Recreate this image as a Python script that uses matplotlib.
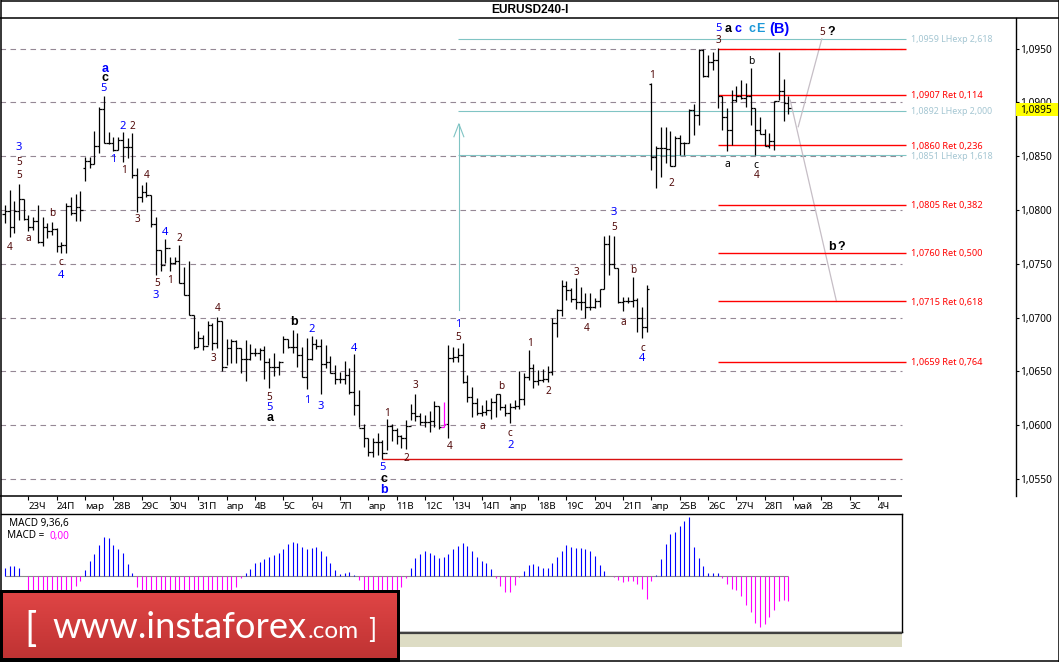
# plot.py
# EURUSD H4 bar chart with wave counts, Fibonacci levels and a MACD pane.

import numpy as np
import matplotlib
matplotlib.use("Agg")
import matplotlib.pyplot as plt
from matplotlib.lines import Line2D
from matplotlib.patches import Rectangle


# =========================
# Data (prices in pips above 1.0000)
# =========================

HIGHS = [
    804.6, 818.6, 808.3, 824.1, 810.2, 795.3, 793.8, 804.6, 793.8, 787.6,
    788.5, 782.9, 770.5, 806.2, 812.4, 814.8, 817.6, 849.5, 848.9, 873.4,
    896.0, 905.9, 872.1, 868.1, 868.1, 872.1, 866.5, 871.2, 838.7, 823.2,
    826.0, 813.9, 793.1, 762.8, 773.0, 756.6, 756.0, 767.4, 747.3, 752.6,
    702.4, 687.5, 683.8, 696.5, 694.7, 700.9, 696.8, 679.8, 679.8, 679.2,
    671.4, 679.2, 675.2, 671.4, 671.4, 673.6, 662.1, 667.4, 659.7, 682.9,
    679.8, 688.5, 685.4, 672.4, 681.3, 682.9, 679.8, 679.8, 674.5, 664.3,
    656.0, 649.8, 659.7, 653.5, 666.2, 632.7, 601.1, 587.8, 587.8, 593.1,
    586.3, 605.8, 601.1, 597.1, 590.9, 604.9, 619.7, 629.0, 611.0, 609.5,
    613.5, 622.8, 618.0, 621.9, 674.5, 673.0, 671.4, 676.1, 646.7, 635.2,
    625.0, 618.8, 623.4, 625.0, 628.7, 628.7, 619.7, 620.3, 623.4, 650.4,
    648.2, 669.9, 656.6, 651.3, 651.9, 655.0, 699.3, 707.7, 734.9, 734.3,
    727.2, 736.5, 728.7, 722.5, 722.5, 717.9, 726.3, 775.8, 776.7, 775.8,
    746.3, 719.4, 719.4, 738.0, 718.5, 710.2, 730.3, 918.3, 859.4, 877.4,
    877.4, 873.4, 868.7, 869.6, 863.4, 893.5, 898.4, 949.6, 949.2, 944.0,
    947.0, 950.2, 906.2, 894.4, 911.4, 915.2, 920.8, 917.6, 931.6, 895.0,
    886.7, 874.9, 871.2, 901.5, 946.4, 921.4, 905.9,
]

LOWS = [
    788.2, 775.2, 778.3, 790.7, 790.7, 780.8, 781.4, 769.6, 766.5, 773.6,
    776.7, 760.6, 759.7, 760.3, 795.3, 790.1, 790.1, 827.2, 839.3, 842.7,
    853.2, 861.9, 861.3, 855.1, 855.7, 844.9, 848.6, 829.4, 798.4, 807.7,
    811.7, 783.8, 739.6, 743.6, 750.4, 743.3, 750.0, 731.8, 721.0, 702.4,
    670.8, 672.4, 669.9, 674.5, 669.9, 671.4, 650.7, 656.0, 658.1, 657.5,
    648.8, 641.4, 660.6, 664.3, 660.6, 642.6, 634.9, 645.7, 646.7, 667.4,
    671.4, 667.4, 653.8, 645.1, 633.6, 660.6, 670.5, 628.7, 652.8, 648.8,
    638.0, 639.5, 638.0, 628.7, 609.5, 598.0, 580.0, 571.7, 570.2, 572.3,
    568.3, 577.0, 585.7, 582.6, 578.5, 577.9, 604.9, 604.2, 600.2, 598.6,
    594.0, 598.6, 596.2, 598.6, 588.4, 659.0, 659.0, 638.9, 621.9, 608.0,
    609.5, 608.9, 609.5, 605.5, 608.0, 614.1, 608.6, 602.4, 614.8, 614.8,
    618.8, 642.0, 634.3, 637.4, 640.5, 640.5, 646.7, 682.3, 701.8, 716.0,
    714.8, 707.7, 707.0, 699.3, 707.0, 708.6, 709.5, 726.3, 739.6, 745.8,
    713.9, 706.4, 713.9, 709.5, 686.9, 681.3, 686.9, 837.1, 820.7, 830.9,
    843.3, 840.8, 840.8, 851.0, 851.0, 861.9, 869.6, 878.9, 923.8, 923.2,
    930.0, 895.0, 874.3, 855.1, 860.4, 900.6, 902.8, 896.0, 878.9, 851.0,
    870.6, 859.7, 857.2, 855.7, 902.2, 882.6, 889.1,
]

CLOSES = [
    799.3, 784.5, 799.0, 810.2, 791.6, 783.9, 789.7, 769.9, 784.5, 780.4,
    782.0, 766.5, 767.4, 803.7, 797.5, 802.4, 800.0, 845.5, 842.4, 859.4,
    893.5, 862.5, 862.5, 855.7, 865.0, 858.2, 858.2, 832.2, 811.7, 817.0,
    813.9, 786.6, 762.8, 748.9, 764.3, 750.4, 752.6, 731.8, 721.0, 702.4,
    672.4, 680.7, 673.9, 693.1, 676.1, 696.8, 653.8, 671.4, 678.6, 671.4,
    661.2, 661.2, 667.4, 667.4, 669.9, 659.0, 654.4, 654.4, 659.0, 679.8,
    672.4, 672.4, 665.2, 645.1, 661.2, 675.2, 673.6, 656.6, 659.0, 648.8,
    642.6, 642.6, 646.7, 630.6, 618.8, 597.7, 588.4, 575.4, 584.7, 584.7,
    573.9, 599.6, 595.6, 590.0, 587.8, 599.3, 611.0, 608.9, 602.7, 602.7,
    604.2, 618.2, 598.6, 600.8, 662.1, 663.7, 665.2, 640.5, 626.5, 620.3,
    611.0, 612.0, 614.1, 621.3, 628.7, 617.2, 611.0, 617.2, 617.9, 624.0,
    645.0, 652.9, 641.0, 642.0, 642.6, 649.1, 695.0, 707.0, 729.4, 725.6,
    717.0, 714.8, 714.8, 709.5, 709.5, 715.7, 726.3, 768.0, 749.5, 745.8,
    714.8, 715.7, 715.4, 716.3, 699.3, 691.0, 726.3, 849.5, 857.9, 857.9,
    856.6, 840.8, 866.5, 861.9, 861.9, 892.9, 888.2, 948.6, 924.5, 937.0,
    939.3, 905.9, 886.1, 874.3, 902.2, 905.9, 904.3, 906.2, 895.0, 874.3,
    870.6, 859.7, 864.0, 901.2, 910.8, 899.1, 894.4,
]

# Bars whose open differs from the previous close (first bar and the gaps)
OPEN_GAPS = {0: 796.0, 17: 838.7, 137: 916.7}

# Bar drawn in magenta on the original chart
MARKED_BARS = [93]

MACD_HIST = [
    23, 29, 29, 23, 0, -55, -65, -72, -78, -82,
    -84, -80, -70, -60, -45, -31, -15, 17, 44, 65,
    92, 116, 113, 93, 80, 68, 35, 8, -33, -50,
    -60, -68, -75, -80, -85, -88, -90, -90, -88, -85,
    -80, -76, -72, -68, -62, -55, -50, -45, -42, -34,
    -7, 10, 22, 38, 41, 50, 56, 62, 68, 82,
    95, 101, 98, 88, 80, 85, 88, 76, 60, 38,
    17, 7, 10, 13, 3, -13, -48, -62, -70, -74,
    -72, -66, -56, -44, -34, -7, 23, 53, 65, 74,
    68, 62, 53, 56, 65, 80, 89, 98, 89, 74,
    56, 44, 38, 20, -6, -31, -49, -47, -28, -4,
    14, 32, 35, 29, 23, 23, 38, 56, 74, 92,
    86, 83, 83, 80, 74, 59, 32, 14, 0, -4,
    -13, -19, -16, -16, -25, -40, -67, -16, 4, 50,
    95, 125, 131, 149, 164, 176, 86, 53, 29, 8,
    8, 8, -6, -25, -40, -43, -61, -85, -106, -139,
    -151, -142, -121, -100, -73, -70, -73,
]

TIME_TICKS = [5 + 6 * k for k in range(31)]
TIME_LABELS = [
    "23Ч", "24П", "мар", "28В", "29С", "30Ч", "31П", "апр", "4В", "5С", "6Ч",
    "7П", "апр", "11В", "12С", "13Ч", "14П", "апр", "18В", "19С", "20Ч", "21П",
    "апр", "25В", "26С", "27Ч", "28П", "май", "2В", "3С", "4Ч",
]

PRICE_TICKS = [550, 600, 650, 700, 750, 800, 850, 900, 950]
LAST_PRICE = 895

# Retracement levels: price, label (first level has no label on the chart)
RET_LEVELS = [950, 907, 860, 805, 760, 715, 659]
RET_LABELS = [
    "", "1,0907 Ret 0,114", "1,0860 Ret 0,236", "1,0805 Ret 0,382",
    "1,0760 Ret 0,500", "1,0715 Ret 0,618", "1,0659 Ret 0,764",
]
RET_START_BAR = 151

EXP_LEVELS = [959, 892, 851]
EXP_LABELS = ["1,0959 LHexp 2,618", "1,0892 LHexp 2,000", "1,0851 LHexp 1,618"]
EXP_START_BAR = 96

LEVEL_END_BAR = 190.9
GRID_END_BAR = 190.0

BASE_LEVEL = 568.3
BASE_START_BAR = 80

ARROW_BAR = 96.2
ARROW_FROM = 707
ARROW_TO = 880

# Forecast paths: bar, price
PATH_UP = ([168.1, 173.1], [877.3, 959.0])
PATH_DOWN = ([166.4, 176.2], [902.0, 715.0])

# Wave labels: text, bar, price
WAVES_BLUE = [
    ("3", 3.0, 859.4), ("4", 11.9, 740.5), ("5", 21.0, 913.9), ("1", 23.0, 848.0),
    ("2", 25.0, 878.9), ("4", 33.9, 780.7), ("3", 32.0, 721.9), ("2", 65.1, 690.3),
    ("5", 56.0, 617.8), ("1", 64.1, 624.0), ("3", 67.0, 618.7), ("4", 73.9, 672.6),
    ("5", 80.1, 562.1), ("1", 96.0, 695.2), ("2", 107.1, 582.5), ("4", 135.0, 663.6),
    ("3", 129.1, 799.0), ("5", 151.1, 970.0),
]
WAVES_DARK = [
    ("5", 3.0, 845.5), ("5", 3.1, 833.1), ("4", 0.95, 766.8), ("a", 5.06, 775.1),
    ("b", 10.06, 798.1), ("c", 11.9, 752.8), ("2", 27.0, 878.6), ("1", 25.2, 837.8),
    ("4", 30.0, 833.1), ("3", 28.1, 792.2), ("2", 37.0, 774.6), ("5", 32.2, 732.8),
    ("1", 35.1, 735.5), ("4", 45.0, 709.5), ("3", 44.2, 663.1), ("5", 56.0, 627.4),
    ("1", 81.0, 612.5), ("3", 87.1, 638.0), ("2", 85.1, 570.2), ("4", 94.2, 581.3),
    ("5", 96.1, 682.6), ("a", 101.2, 600.4), ("b", 105.2, 637.3), ("c", 107.1, 594.0),
    ("1", 111.2, 677.6), ("2", 115.1, 633.0), ("3", 121.1, 743.5), ("4", 123.2, 691.5),
    ("a", 131.1, 697.1), ("b", 133.2, 744.8), ("c", 135.1, 672.9), ("5", 129.1, 785.3),
    ("1", 137.2, 926.6), ("2", 141.2, 826.2), ("3", 151.1, 958.6), ("4", 159.2, 833.7),
    ("5", 173.2, 966.6),
]
WAVES_BLACK = [("b", 158.2, 939.0), ("a", 153.2, 843.9), ("c", 159.2, 843.0)]
WAVES_BOLD_BLACK = [
    ("c", 21.2, 923.8), ("b", 61.2, 696.8), ("a", 56.2, 607.9), ("c", 80.3, 551.2),
    ("a", 153.2, 969.7), ("?", 175.2, 966.6), ("b", 175.2, 767.4), ("?", 177.3, 767.4),
]
WAVES_BOLD_BLUE = [("a", 21.2, 932.2), ("b", 80.3, 540.7), ("c", 155.3, 969.7)]
WAVES_BOLD_CYAN = [("c", 158.3, 969.7), ("E", 160.1, 969.7)]
WAVES_BIG_BLUE = [("(B)", 164.1, 969.7)]


# =========================
# Layout helpers
# =========================

W, H = 1059, 662
FONT = "Noto Sans"
BOLD_FONT = "Liberation Sans"

BAR_COLOR = "black"
GRID_COLOR = "#958895"
RED = "#ff0000"
TEAL = "#80c4c4"
EXP_TEXT = "#a4c6d2"
DARK_RED = "#500808"
BLUE = "#0000ff"
CYAN = "#1c98d8"
MAGENTA = "#ff00ff"
PATH_COLOR = "#c6bec6"

THIN = 0.8


def px_axes(fig, left, top, right, bottom):
    """Create axes from pixel edges measured from the top left corner."""
    return fig.add_axes([left / W, 1 - bottom / H, (right - left) / W, (bottom - top) / H])


def fig_line(fig, x0, y0, x1, y1, lw=1.1, color="black", zorder=20):
    fig.add_artist(Line2D([x0 / W, x1 / W], [1 - y0 / H, 1 - y1 / H], color=color,
                          lw=lw, zorder=zorder, solid_capstyle="butt"))


def fig_text(fig, x, y, s, **kw):
    kw.setdefault("family", FONT)
    return fig.text(x / W, 1 - y / H, s, **kw)


# =========================
# Price pane
# =========================

def draw_price_pane(ax):
    idx = np.arange(len(CLOSES))
    highs = np.array(HIGHS)
    lows = np.array(LOWS)
    closes = np.array(CLOSES)
    opens = np.concatenate(([closes[0]], closes[:-1]))
    for bar, value in OPEN_GAPS.items():
        opens[bar] = value

    colors = [MAGENTA if i in MARKED_BARS else BAR_COLOR for i in idx]
    ax.vlines(idx, lows, highs, colors=colors, lw=0.9, zorder=4)
    ax.hlines(opens, idx - 0.5, idx, colors=colors, lw=0.9, zorder=4)
    ax.hlines(closes, idx, idx + 0.5, colors=colors, lw=0.9, zorder=4)

    ax.hlines(PRICE_TICKS, -1, GRID_END_BAR, colors=GRID_COLOR, lw=0.8,
              linestyles=(0, (5, 4)), zorder=1)

    ax.hlines(EXP_LEVELS, EXP_START_BAR, LEVEL_END_BAR, colors=TEAL, lw=THIN, zorder=2)
    ax.hlines(RET_LEVELS, RET_START_BAR, LEVEL_END_BAR, colors=RED, lw=1.0, zorder=3)
    ax.hlines([BASE_LEVEL], BASE_START_BAR, GRID_END_BAR, colors="#d81010", lw=1.0, zorder=3)

    ax.plot(*PATH_UP, color=PATH_COLOR, lw=0.9, zorder=2)
    ax.plot(*PATH_DOWN, color=PATH_COLOR, lw=0.9, zorder=2)

    # Open arrow above the teal vertical
    ax.plot([ARROW_BAR, ARROW_BAR], [ARROW_FROM, ARROW_TO], color=TEAL, lw=THIN, zorder=2)
    ax.plot([ARROW_BAR - 1.05, ARROW_BAR, ARROW_BAR + 1.05],
            [ARROW_TO - 12, ARROW_TO, ARROW_TO - 12], color=TEAL, lw=THIN, zorder=2)

    for level, label in zip(RET_LEVELS, RET_LABELS):
        ax.text(191.9, level, label, color=RED, fontsize=6.6, va="center_baseline", family=FONT)
    for level, label in zip(EXP_LEVELS, EXP_LABELS):
        ax.text(191.9, level, label, color=EXP_TEXT, fontsize=6.4, va="center_baseline", family=FONT)

    groups = [
        (WAVES_BLUE, BLUE, 8.0, "normal", FONT),
        (WAVES_DARK, DARK_RED, 7.2, "normal", FONT),
        (WAVES_BLACK, "black", 7.4, "normal", FONT),
        (WAVES_BOLD_BLACK, "black", 9.0, "bold", BOLD_FONT),
        (WAVES_BOLD_BLUE, BLUE, 9.0, "bold", BOLD_FONT),
        (WAVES_BOLD_CYAN, CYAN, 9.0, "bold", BOLD_FONT),
        (WAVES_BIG_BLUE, BLUE, 10.5, "bold", BOLD_FONT),
    ]
    for labels, color, size, weight, family in groups:
        for text, bar, price in labels:
            ax.text(bar, price, text, color=color, fontsize=size, fontweight=weight,
                    ha="center", va="center_baseline", family=family, zorder=6)

    ax.set_xlim((1 - 4.8) / 4.72, (1016 - 4.8) / 4.72)
    ax.set_ylim(995.07 - 496 * 0.9292, 995.07 - 18 * 0.9292)

    ax.yaxis.tick_right()
    ax.set_yticks(PRICE_TICKS)
    ax.set_yticklabels([f"1,0{p}" for p in PRICE_TICKS], family=FONT, fontsize=7.3)
    ax.tick_params(axis="y", direction="out", length=2.4, width=0.8, pad=0.8)

    ax.set_xticks(TIME_TICKS)
    ax.set_xticklabels(TIME_LABELS, family=FONT, fontsize=7.0, ha="left")
    ax.tick_params(axis="x", direction="out", length=2.8, width=0.8, pad=1.2)

    ax.spines["left"].set_visible(False)
    ax.spines["top"].set_visible(False)
    ax.spines["bottom"].set_visible(False)
    ax.spines["right"].set_linewidth(1.0)


# =========================
# MACD pane
# =========================

def draw_macd_pane(ax):
    idx = np.arange(len(MACD_HIST))
    values = np.array(MACD_HIST)
    colors = [BLUE if v > 0 else MAGENTA for v in values]
    ax.vlines(idx, 0, values, colors=colors, lw=0.8, zorder=3)
    ax.hlines([0], idx[0], idx[-1], colors="#8a8a8a", lw=0.8, zorder=2)

    ax.set_xlim((1 - 4.8) / 4.72, (901.7 - 4.8) / 4.72)
    ax.set_ylim(-166, 185)
    ax.set_xticks([])
    ax.set_yticks([])
    for spine in ax.spines.values():
        spine.set_linewidth(1.0)
    ax.spines["left"].set_visible(False)


# =========================
# Strip under the MACD pane
# =========================

def draw_strip(fig):
    fig.add_artist(Rectangle((400 / W, 1 - 647 / H), 502 / W, 14.5 / H, transform=fig.transFigure,
                             facecolor="#dddcc4", edgecolor="none", zorder=5))
    fig_line(fig, 400, 632.5, 902, 632.5, lw=1.6, color="#404040")


# =========================
# Logo block
# =========================

def draw_logo(fig):
    fig.add_artist(Rectangle((0, 0), 400 / W, 72 / H, transform=fig.transFigure,
                             facecolor="black", edgecolor="none", zorder=30))
    ax = px_axes(fig, 3.3, 593, 397, 658)
    ax.set_zorder(40)
    shade = np.linspace(0, 1, 65).reshape(-1, 1)
    top = np.array([0.875, 0.27, 0.27])
    bottom = np.array([0.75, 0.20, 0.20])
    ax.imshow(top + (bottom - top) * shade[..., None], aspect="auto")
    ax.axis("off")

    pieces = [
        (24, 641, "[", 29),
        (52, 638, "www.instaforex", 26.2),
        (308, 638, ".com", 17.5),
        (368, 638, "]", 19),
    ]
    for x, y, text, size in pieces:
        fig_text(fig, x, y, text, fontsize=size, family="Lato", fontweight="normal",
                 color="white", va="baseline", zorder=50)


# =========================
# Main Entry Point
# =========================

def main():
    fig = plt.figure(figsize=(W / 100, H / 100), dpi=100, facecolor="white")

    price_ax = px_axes(fig, 1, 18, 1016, 496)
    draw_price_pane(price_ax)

    macd_ax = px_axes(fig, 1, 514, 901.7, 631.7)
    draw_macd_pane(macd_ax)

    # Frame and separators
    fig_line(fig, 0.5, 0.5, 1058.5, 0.5)
    fig_line(fig, 0.5, 0, 0.5, 662)
    fig_line(fig, 1058.5, 0, 1058.5, 662)
    fig_line(fig, 0, 661.3, 1059, 661.3)
    fig_line(fig, 0, 18, 1059, 18)
    fig_line(fig, 0, 496, 902, 496)

    draw_strip(fig)

    fig.text(530 / W, 1 - 10 / H, "EURUSD240-I", family="Liberation Sans", fontweight="bold",
             fontsize=8.6, ha="center", va="center")

    # Last price box
    fig.add_artist(Rectangle((1015.5 / W, 1 - 115.5 / H), 42.5 / W, 12.5 / H,
                             transform=fig.transFigure, facecolor="#ffff00",
                             edgecolor="none", zorder=25))
    fig_text(fig, 1020.5, 109, f"1,0{LAST_PRICE}", fontsize=7.3, va="center_baseline", zorder=26)

    fig_text(fig, 9, 522, "MACD 9,36,6", fontsize=7.2, va="center_baseline", zorder=10)
    fig_text(fig, 7, 534.5, "MACD =", fontsize=7.2, va="center_baseline", zorder=10)
    fig_text(fig, 49, 534.5, "0,00", fontsize=7.2, va="center_baseline", color=MAGENTA, zorder=10)

    draw_logo(fig)

    fig.savefig("out.png", dpi=100)


if __name__ == "__main__":
    main()
